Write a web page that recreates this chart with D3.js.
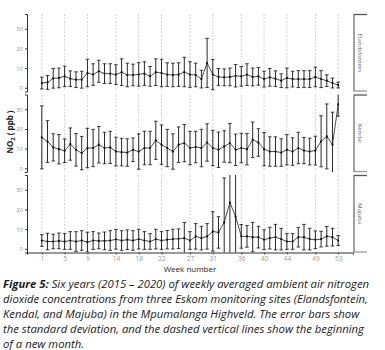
<!DOCTYPE html>
<meta charset="utf-8">
<script src="https://d3js.org/d3.v7.min.js"></script>
<style>
  body { margin: 0; background: white; }
  text { font-family: 'Open Sans', sans-serif; }
</style>
<body>
<div id="chart"></div>
<script>

var weeks = d3.range(1, 54);
var monthStarts = [1, 5, 9, 14, 18, 22, 27, 31, 36, 40, 44, 49, 53];
var yTicks = [0, 10, 20, 30];
var sites = ["Elandsfontein", "Kendal", "Majuba"];

var elandsMean = [2.4, 2.7, 4.8, 5.0, 5.8, 4.6, 4.1, 4.1, 7.5, 6.7, 8.4, 7.2, 7.2, 6.7, 7.9, 6.5, 6.5, 6.8, 7.2, 5.8,
  7.9, 7.5, 6.7, 6.5, 6.7, 8.0, 6.7, 6.5, 4.4, 12.6, 6.7, 5.5, 5.3, 5.5, 6.1, 5.8, 6.7, 5.5, 5.8, 4.4,
  5.3, 4.6, 3.6, 5.0, 4.4, 4.4, 4.4, 4.4, 5.5, 4.4, 3.6, 2.4, 1.4];
var elandsSd = [3, 3.5, 5, 5, 5.2, 4, 4, 4.3, 7, 5.5, 5.6, 5, 5, 5, 6.8, 6, 5.5, 6, 6, 5,
  6.8, 7, 6, 6, 6, 7.5, 6.5, 6, 4.5, 12.5, 7.7, 4.3, 4.3, 4.5, 5.7, 5, 5.5, 4.5, 4.5, 4,
  4.5, 4, 3.5, 5, 4, 4.3, 4.3, 4.3, 5, 4.3, 3, 2.5, 1.5];

var kendalMean = [15.7, 13.6, 10.6, 9.7, 8.9, 12.3, 9.4, 7.7, 10.3, 10.3, 12, 10.3, 10.6, 8.5, 8.2, 8.0, 9.4, 8.5, 10.3, 10.3,
  14.2, 12, 10.3, 8.5, 12, 12.8, 10.3, 10.8, 10.3, 13.1, 10.3, 9.4, 11.1, 12.8, 9.4, 10.3, 9.7, 14.5, 13.1, 9.7,
  8.5, 8.5, 8.0, 9.4, 8.5, 10.3, 9.0, 8.5, 9.0, 13.7, 16.2, 12, 32.5];
var kendalSd = [16, 10.6, 6.9, 7.5, 6, 8.2, 8.3, 8.5, 10, 9.5, 9.3, 8, 8.2, 7.3, 7, 7, 6, 9, 8.5, 8.5,
  9.7, 10, 9.5, 9, 9, 9.5, 8.5, 8, 9.5, 9.5, 9, 9, 8, 10, 8, 7.5, 8, 9, 7, 8.5,
  7.5, 7.5, 7, 7.7, 7, 8, 6.7, 6.8, 7.3, 13, 16.5, 16.5, 6];

var majubaMean = [4.2, 3.7, 3.7, 4.0, 3.7, 4.2, 3.7, 4.2, 3.4, 4.2, 4.0, 4.0, 4.2, 4.8, 4.2, 4.6, 4.2, 4.9, 4.2, 3.7,
  4.9, 4.2, 4.6, 4.9, 5.1, 5.4, 4.2, 6.3, 5.4, 6.3, 8.8, 8.3, 13.4, 23.5, 16.4, 6.3, 6.3, 5.9, 5.9, 4.6,
  5.4, 5.9, 4.9, 3.7, 3.7, 5.9, 5.9, 4.9, 4.6, 4.9, 6.3, 5.9, 4.2];
var majubaSd = [3, 4.2, 3.7, 4, 4, 4.5, 5, 5, 5, 4.5, 4, 4.5, 5, 5, 5, 5, 5, 5, 4.5, 4,
  5, 4.5, 4.7, 5, 5, 8, 4.5, 6.5, 6, 6.5, 10, 8, 22.6, 26, 22, 6, 5.5, 7.5, 5.5, 5,
  5.5, 6.5, 5.5, 4, 4, 5, 6.5, 5.5, 4.5, 4, 5, 4.5, 2.5];

var means = [elandsMean, kendalMean, majubaMean];
var sds = [elandsSd, kendalSd, majubaSd];

var captionLines = [
  "Six years (2015 \u2013 2020) of weekly averaged ambient air nitrogen",
  "dioxide concentrations from three Eskom monitoring sites (Elandsfontein,",
  "Kendal, and Majuba) in the Mpumalanga Highveld. The error bars show",
  "the standard deviation, and the dashed vertical lines show the beginning",
  "of a new month."
];

var W = 385, H = 350;
var left = 27, right = 353,
    panelTop = 14, panelH = 77.5, panelStep = 80.5;

var svg = d3.select("#chart")
  .append("svg")
    .attr("width", W)
    .attr("height", H);

var x = d3.scaleLinear()
  .domain([-1.6, 55.6])
  .range([left, right]);

sites.forEach(function(site, i) {
  var top = panelTop + i * panelStep;
  var y = d3.scaleLinear()
    .domain([-1.9, 37.5])
    .range([top + panelH, top]);

  var data = weeks.map(function(w, j) {
    return {week: w, mean: means[i][j], sd: sds[i][j]};
  });

  svg.append("clipPath")
      .attr("id", "clip" + i)
    .append("rect")
      .attr("x", left)
      .attr("y", top)
      .attr("width", right - left)
      .attr("height", panelH);

  var g = svg.append("g").attr("clip-path", "url(#clip" + i + ")");

  // month dividers
  g.selectAll(".month")
    .data(monthStarts)
    .enter().append("line")
      .attr("x1", function(d) { return x(d); })
      .attr("x2", function(d) { return x(d); })
      .attr("y1", top)
      .attr("y2", top + panelH)
      .attr("stroke", "#bdbdbd")
      .attr("stroke-width", 0.7)
      .attr("stroke-dasharray", "2,1.5");

  // error bars
  var bars = g.selectAll(".bar")
    .data(data)
    .enter().append("g");
  bars.append("line")
    .attr("x1", function(d) { return x(d.week); })
    .attr("x2", function(d) { return x(d.week); })
    .attr("y1", function(d) { return y(d.mean + d.sd); })
    .attr("y2", function(d) { return y(d.mean - d.sd); })
    .attr("stroke", "#111")
    .attr("stroke-width", 0.9);
  bars.append("line")
    .attr("x1", function(d) { return x(d.week) - 1.8; })
    .attr("x2", function(d) { return x(d.week) + 1.8; })
    .attr("y1", function(d) { return y(d.mean + d.sd); })
    .attr("y2", function(d) { return y(d.mean + d.sd); })
    .attr("stroke", "#111")
    .attr("stroke-width", 0.8);
  bars.append("line")
    .attr("x1", function(d) { return x(d.week) - 1.8; })
    .attr("x2", function(d) { return x(d.week) + 1.8; })
    .attr("y1", function(d) { return y(d.mean - d.sd); })
    .attr("y2", function(d) { return y(d.mean - d.sd); })
    .attr("stroke", "#111")
    .attr("stroke-width", 0.8);

  // mean line + points
  g.append("path")
    .datum(data)
    .attr("fill", "none")
    .attr("stroke", "#222")
    .attr("stroke-width", 0.8)
    .attr("d", d3.line()
      .x(function(d) { return x(d.week); })
      .y(function(d) { return y(d.mean); }));

  g.selectAll(".pt")
    .data(data)
    .enter().append("circle")
      .attr("cx", function(d) { return x(d.week); })
      .attr("cy", function(d) { return y(d.mean); })
      .attr("r", 1.1)
      .attr("fill", "#111");

  // y axis
  var yAxis = svg.append("g")
    .attr("transform", "translate(" + left + ",0)")
    .call(d3.axisLeft(y).tickValues(yTicks).tickSize(2).tickPadding(2));
  yAxis.select(".domain").attr("stroke", "#333").attr("stroke-width", 1);
  yAxis.selectAll(".tick line").attr("stroke", "#444");
  yAxis.selectAll(".tick text")
    .attr("fill", "#9a9a9a")
    .style("font-size", "6px")
    .style("font-family", "'Open Sans', sans-serif");

  // strip
  svg.append("line")
    .attr("x1", 354).attr("x2", 354)
    .attr("y1", top).attr("y2", top + panelH)
    .attr("stroke", "#444").attr("stroke-width", 1);
  svg.append("line")
    .attr("x1", 354).attr("x2", 367)
    .attr("y1", top + 0.5).attr("y2", top + 0.5)
    .attr("stroke", "#555").attr("stroke-width", 1.3);
  svg.append("line")
    .attr("x1", 354).attr("x2", 367)
    .attr("y1", top + panelH - 0.5).attr("y2", top + panelH - 0.5)
    .attr("stroke", "#999").attr("stroke-width", 1.3);
  svg.append("text")
    .attr("transform", "translate(358," + (top + panelH / 2) + ") rotate(90)")
    .attr("text-anchor", "middle")
    .attr("fill", "#667")
    .style("font-size", "6px")
    .text(site);

  // x axis on bottom panel only
  if (i === sites.length - 1) {
    var xAxis = svg.append("g")
      .attr("transform", "translate(0," + (top + panelH) + ")")
      .call(d3.axisBottom(x).tickValues(monthStarts).tickSize(2).tickPadding(1.5));
    xAxis.select(".domain").attr("stroke", "#333").attr("stroke-width", 1);
    xAxis.selectAll(".tick line").attr("stroke", "#444");
    xAxis.selectAll(".tick text")
      .attr("fill", "#9a9a9a")
      .style("font-size", "6.5px")
      .style("font-family", "'Open Sans', sans-serif");
  }
});

// axis titles
svg.append("text")
  .attr("x", (left + right) / 2)
  .attr("y", 271.5)
  .attr("text-anchor", "middle")
  .attr("fill", "#222")
  .style("font-size", "8px")
  .text("Week number");

var yl = svg.append("text")
  .attr("transform", "translate(13,132) rotate(-90)")
  .attr("text-anchor", "middle")
  .attr("fill", "#222")
  .style("font-size", "8px")
  .style("font-weight", "bold");
yl.append("tspan").text("NO");
yl.append("tspan").attr("dy", 2).style("font-size", "6px").text("2");
yl.append("tspan").attr("dy", -2).text(" ( ppb )");

// caption
var cap = svg.append("text")
  .attr("fill", "#1a1a1a")
  .style("font-size", "11.3px")
  .style("font-style", "italic");
captionLines.forEach(function(line, k) {
  var t = cap.append("tspan")
    .attr("x", 3)
    .attr("y", 288 + k * 15.05);
  if (k === 0) {
    t.append("tspan").style("font-weight", "bold").text("Figure 5: ");
  }
  t.append("tspan").text(line);
});

</script>
</body>
